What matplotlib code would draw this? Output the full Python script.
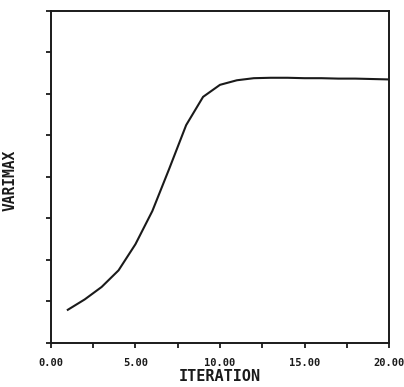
import matplotlib
matplotlib.use("Agg")
import matplotlib.pyplot as plt
from matplotlib.ticker import MultipleLocator, FixedLocator

iteration = [1, 2, 3, 4, 5, 6, 7, 8, 9, 10, 11, 12, 13, 14, 15, 16, 17, 18, 19, 20]
varimax = [0.80, 1.05, 1.35, 1.75, 2.38, 3.18, 4.20, 5.25, 5.93, 6.22,
           6.33, 6.38, 6.39, 6.39, 6.38, 6.38, 6.37, 6.37, 6.36, 6.35]
xtick_vals = [0, 5, 10, 15, 20]
xtick_labels = ["0.00", "5.00", "10.00", "15.00", "20.00"]

ink = "#1a1a1a"
fig = plt.figure(figsize=(4.04, 3.87), dpi=100)
ax = fig.add_axes([0.126, 0.1137, 0.837, 0.858])
ax.plot(iteration, varimax, color=ink, lw=1.5)
ax.set_xlim(0, 20)
ax.set_ylim(0, 8)

ax.xaxis.set_major_locator(FixedLocator(xtick_vals))
ax.xaxis.set_minor_locator(MultipleLocator(2.5))
ax.set_xticklabels(xtick_labels, fontfamily="DejaVu Sans Mono", fontweight="bold",
                   fontsize=7.5, color=ink)
ax.yaxis.set_major_locator(MultipleLocator(1))
ax.set_yticklabels([])
ax.tick_params(which="both", direction="out", length=3.5, width=1.3, color=ink, pad=7)

for s in ax.spines.values():
    s.set_linewidth(1.4)
    s.set_color(ink)

ax.set_xlabel("ITERATION", fontfamily="DejaVu Sans Mono", fontweight="bold",
              fontsize=11, color=ink, labelpad=1)
fig.text(0.024, 0.535, "VARIMAX", rotation=90, ha="center", va="center",
         fontfamily="DejaVu Sans Mono", fontweight="bold", fontsize=10.5, color=ink)

fig.savefig("out.png", dpi=100)
